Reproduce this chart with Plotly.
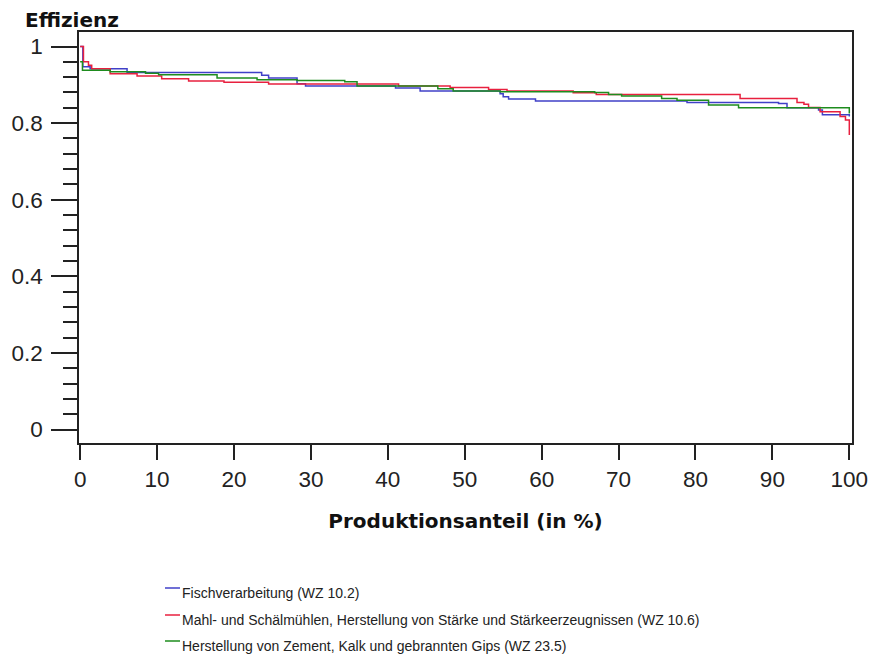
import plotly.graph_objects as go

# ---- data ----
series_names = [
    "Fischverarbeitung (WZ 10.2)",
    "Mahl- und Schälmühlen, Herstellung von Stärke und Stärkeerzeugnissen (WZ 10.6)",
    "Herstellung von Zement, Kalk und gebrannten Gips (WZ 23.5)",
]

x_fisch = [0, 0.35, 1.3, 6.1, 23.6, 24.5, 28.2, 29.3, 41.0, 44.2, 54.6, 55.0, 55.7,
           59.2, 78.9, 90.8, 91.9, 96.0, 96.5, 100]
y_fisch = [1.0, 0.947, 0.942, 0.932, 0.925, 0.918, 0.903, 0.897, 0.892, 0.884, 0.877,
           0.869, 0.863, 0.858, 0.854, 0.851, 0.840, 0.834, 0.822, 0.817]

x_mahl = [0, 0.43, 1.08, 1.5, 3.9, 7.4, 10.6, 14.1, 18.7, 24.5, 41.4, 48.1, 53.1, 55.5,
          64.1, 67.1, 85.8, 93.2, 94.1, 94.7, 96.2, 98.8, 99.5, 100]
y_mahl = [1.0, 0.96, 0.951, 0.942, 0.929, 0.923, 0.916, 0.910, 0.907, 0.902, 0.897,
          0.893, 0.888, 0.884, 0.879, 0.875, 0.864, 0.854, 0.849, 0.841, 0.830, 0.817,
          0.808, 0.769]

x_zement = [0, 0.3, 3.9, 8.5, 10.2, 17.8, 23.0, 28.2, 34.4, 36.0, 46.5, 48.5, 54.6,
            66.9, 68.7, 70.4, 75.6, 77.6, 81.7, 85.6, 100]
y_zement = [0.96, 0.938, 0.934, 0.930, 0.926, 0.918, 0.913, 0.911, 0.908, 0.897, 0.890,
            0.884, 0.882, 0.880, 0.875, 0.871, 0.864, 0.860, 0.847, 0.840, 0.825]

x_ticks = [0, 10, 20, 30, 40, 50, 60, 70, 80, 90, 100]
y_ticks = [0, 0.2, 0.4, 0.6, 0.8, 1]
y_tick_text = ["0", "0.2", "0.4", "0.6", "0.8", "1"]

colors = ["#4040c8", "#e8203f", "#1e8c1e"]

# plot-area geometry in pixels (figure is 871 x 655)
L, R, T, B = 79, 852, 32, 443
W, H = R - L, B - T


def px_x(px):
    return (px - L) / W


def px_y(py):
    return (B - py) / H


fig = go.Figure()
for i, (xs, ys) in enumerate([(x_fisch, y_fisch), (x_mahl, y_mahl), (x_zement, y_zement)]):
    fig.add_trace(go.Scatter(
        x=xs, y=ys, mode="lines", line_shape="hv",
        line=dict(color=colors[i], width=1.5),
        name=series_names[i], showlegend=False,
    ))

tick_font = dict(family="Liberation Sans, Arial, sans-serif", size=22.5, color="#222222")

# legend drawn below the chart: short key line + label for each series
legend_rows_py = [588, 615, 641]
shapes = []
annotations = []
for i, name in enumerate(series_names):
    py = legend_rows_py[i]
    shapes.append(dict(type="line", xref="paper", yref="paper",
                       x0=px_x(165), x1=px_x(180), y0=px_y(py), y1=px_y(py),
                       line=dict(color=colors[i], width=1.5)))
    annotations.append(dict(text=name, xref="paper", yref="paper",
                            x=px_x(180), xanchor="left", y=px_y(py + 5), yanchor="middle",
                            showarrow=False,
                            font=dict(family="Liberation Sans, Arial, sans-serif",
                                      size=14, color="#222222")))

annotations.append(dict(
    text="<b>Effizienz</b>", xref="paper", yref="paper",
    x=px_x(22.7), xanchor="left", y=px_y(20), yanchor="middle",
    showarrow=False,
    font=dict(family="DejaVu Sans, sans-serif", size=20, color="#111111"),
))

fig.update_layout(
    width=871, height=655,
    margin=dict(l=L, r=871 - R, t=T, b=655 - B, autoexpand=False),
    plot_bgcolor="white", paper_bgcolor="white",
    showlegend=False,
    xaxis=dict(
        range=[-0.15, 100.35], tickvals=x_ticks, ticks="outside", ticklen=15,
        tickwidth=1.5, tickcolor="#222222", showline=True, linecolor="#222222",
        linewidth=1.5, mirror=True, showgrid=False, zeroline=False,
        tickfont=tick_font, automargin=False,
        title=dict(text="<b>Produktionsanteil (in %)</b>", standoff=23,
                   font=dict(family="DejaVu Sans, sans-serif", size=20, color="#111111")),
    ),
    yaxis=dict(
        range=[-0.0352, 1.0379], tickvals=y_ticks, ticktext=y_tick_text,
        ticks="outside", ticklen=26, tickwidth=1.5, tickcolor="#222222",
        ticklabelstandoff=4,
        minor=dict(dtick=0.04, ticks="outside", ticklen=14, tickwidth=1.5,
                   tickcolor="#222222", showgrid=False),
        showline=True, linecolor="#222222", linewidth=1.5, mirror=True,
        showgrid=False, zeroline=False, tickfont=tick_font, automargin=False,
    ),
    shapes=shapes,
    annotations=annotations,
)

fig.write_html("out.html")
